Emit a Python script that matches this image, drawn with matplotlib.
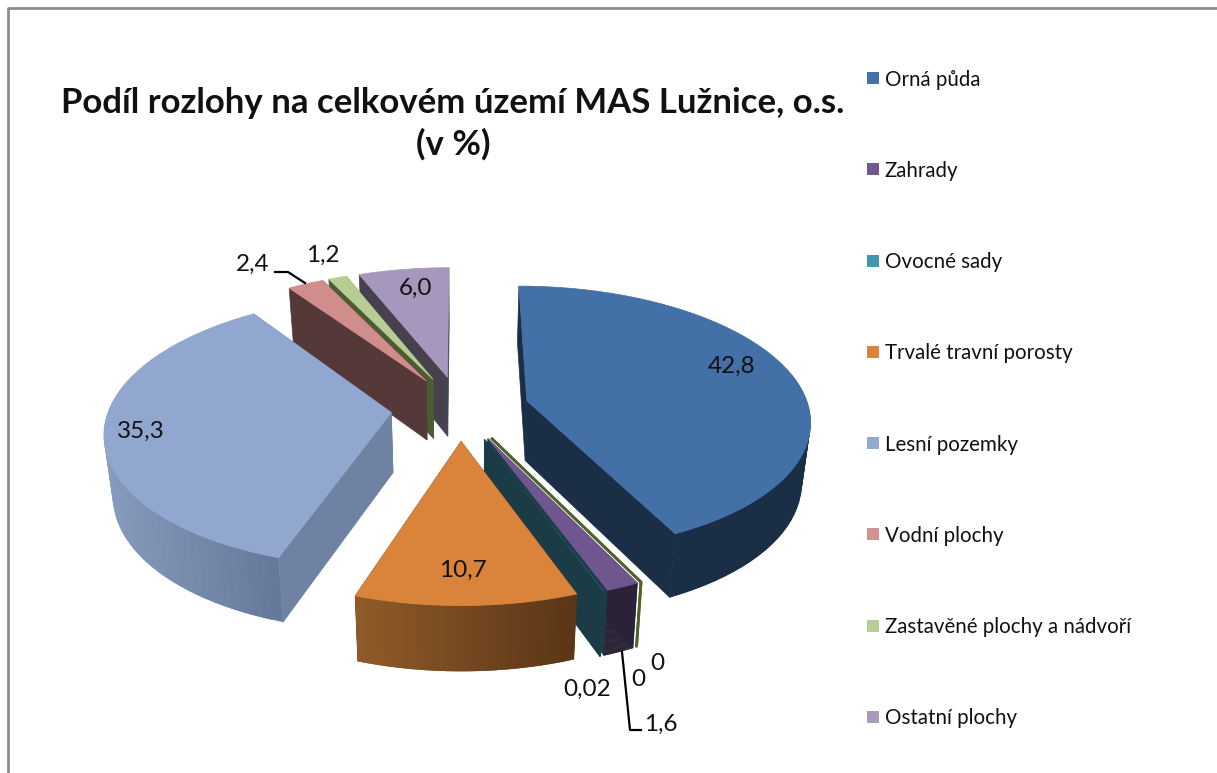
import numpy as np
import matplotlib
matplotlib.use("Agg")
import matplotlib.pyplot as plt
from matplotlib.patches import Polygon, Rectangle
from matplotlib.colors import to_rgb

plt.rcParams['font.family'] = ['Lato', 'DejaVu Sans']

# slice order as in the source sheet, two zero rows have no legend entry
categories = ["Orná půda", "Chmelnice", "Vinice", "Zahrady", "Ovocné sady",
              "Trvalé travní porosty", "Lesní pozemky", "Vodní plochy",
              "Zastavěné plochy a nádvoří", "Ostatní plochy"]
values = [42.8, 0, 0, 1.6, 0.02, 10.7, 35.3, 2.4, 1.2, 6.0]
value_labels = ["42,8", "0", "0", "1,6", "0,02", "10,7", "35,3", "2,4", "1,2", "6,0"]
in_legend = [True, False, False, True, True, True, True, True, True, True]

top_colors = ["#4370a6", "#953735", "#4f6228", "#70568f", "#3f97ae",
              "#d9833b", "#92a7cf", "#cf8d8c", "#b8cd94", "#a797bd"]
legend_colors = ["#4573a7", "#aa4643", "#89a54e", "#71588f", "#4198af",
                 "#db843d", "#93a9cf", "#d19392", "#b9cd96", "#a99bbd"]
# wall colour at the two ends of the rim, left to right on screen
wall_colors = [("#1a2e46", "#1a2e46"), ("#4f6228", "#4f6228"), ("#4f6228", "#4f6228"),
               ("#2c2238", "#2c2238"), ("#1b3b47", "#1b3b47"),
               ("#905b29", "#5a3517"), ("#869bbd", "#65789a"),
               ("#553838", "#553838"), ("#4c5b32", "#4c5b32"), ("#46404f", "#46404f")]
side_colors = ["#1a2e46", "#4f6228", "#4f6228", "#1b3b47", "#1b3b47",
               "#5a3517", "#6e83a3", "#553838", "#4c5b32", "#46404f"]

# screen position of the labels, px
label_pos = [(732, 366), (657, 664), (638, 680), (661, 724), (587, 689),
             (463, 570), (141, 431), (253, 264), (323, 255), (415, 288)]

CX, CY = 460, 408
RX, RY = 282, 132
PERSP = 0.135
EXPLODE = 0.245


def project(X, Y):
    s = 1 / (1 + PERSP * Y)
    return CX + RX * X * s, CY - RY * Y * s, s


def drop(px, py, s):
    # bottom of the wall under a top point
    return CX + (px - CX) * 0.975, py + 60 * np.sqrt(s)


def wedge_points(a0, a1, ex, ey, n=60):
    t = np.radians(np.linspace(a0, a1, n))
    return project(ex + np.cos(t), ey + np.sin(t))


fig = plt.figure(figsize=(12.17, 7.73), dpi=100)
ax = fig.add_axes([0, 0, 1, 1])
ax.set_xlim(0, 1217)
ax.set_ylim(773, 0)
ax.axis("off")

# only top and left of the frame are inside the crop
ax.plot([8, 8, 1217], [773, 8, 8], color="#8c8c8c", lw=2)

# angles clockwise from 12 o'clock
total = sum(values)
ends = 90 - np.cumsum(values) / total * 360
starts = np.r_[90, ends[:-1]]


def draw_slice(i):
    a0, a1 = starts[i], ends[i]
    mid = np.radians((a0 + a1) / 2)
    ex, ey = EXPLODE * np.cos(mid), EXPLODE * np.sin(mid)
    ax_, ay_, as_ = project(ex, ey)
    abx, aby = drop(ax_, ay_, as_)

    if values[i] == 0:
        rx_, ry_, rs_ = project(ex + np.cos(np.radians(a0)), ey + np.sin(np.radians(a0)))
        rbx, rby = drop(rx_, ry_, rs_)
        ax.plot([ax_, rx_, rbx], [ay_, ry_, rby], color=wall_colors[i][0], lw=2.0,
                solid_capstyle="butt", zorder=2 + i * 0.01)
        return

    px, py, ps = wedge_points(a0, a1, ex, ey)
    bx, by = drop(px, py, ps)
    angles = np.linspace(a0, a1, len(px))

    for k in (0, -1):
        ax.add_patch(Polygon([(ax_, ay_), (px[k], py[k]), (bx[k], by[k]), (abx, aby)],
                             fc=side_colors[i], ec=side_colors[i], lw=0.5))

    # rim wall in strips for the shading, each one runs over the seam of the next
    c0, c1 = np.array(to_rgb(wall_colors[i][0])), np.array(to_rgb(wall_colors[i][1]))
    span = max(px.max() - px.min(), 1)
    for k in range(len(px) - 1):
        if np.sin(np.radians(angles[k])) > 0.25:
            continue
        n = min(k + 2, len(px) - 1)
        f = ((px[k] + px[k + 1]) / 2 - px.min()) / span
        ax.add_patch(Polygon([(px[k], py[k]), (px[n], py[n]), (bx[n], by[n]), (bx[k], by[k])],
                             fc=c0 + (c1 - c0) * f, ec="none"))

    # the 0,02 slice is too thin to get an outline
    edge = "none" if values[i] < 0.1 else top_colors[i]
    ax.add_patch(Polygon(np.c_[np.r_[ax_, px], np.r_[ay_, py]],
                         fc=top_colors[i], ec=edge, lw=0.5))


# back slices first, front ones over them
for i in [9, 8, 7, 6, 0, 1, 2, 3, 4, 5]:
    draw_slice(i)

# leader lines
ax.plot([275, 288, 305], [272, 272, 283], color="black", lw=1.6)
ax.plot([622, 630, 641], [652, 730, 730], color="black", lw=1.6)

for txt, (x, y) in zip(value_labels, label_pos):
    ax.text(x, y, txt, fontsize=17.5, ha="center", va="center", color="#111111")

ax.text(453, 124, "Podíl rozlohy na celkovém území MAS Lužnice, o.s.\n(v %)",
        fontsize=25, fontweight="bold", ha="center", va="center", linespacing=1.35,
        color="#111111")

legend_y = np.linspace(78, 717, sum(in_legend))
shown = [i for i in range(len(categories)) if in_legend[i]]
for y, i in zip(legend_y, shown):
    ax.add_patch(Rectangle((867, y - 6), 12, 12, fc=legend_colors[i], ec="none"))
    ax.text(885, y + 1.5, categories[i], fontsize=14.8, ha="left", va="center", color="#111111")

fig.savefig("out.png", dpi=100)
